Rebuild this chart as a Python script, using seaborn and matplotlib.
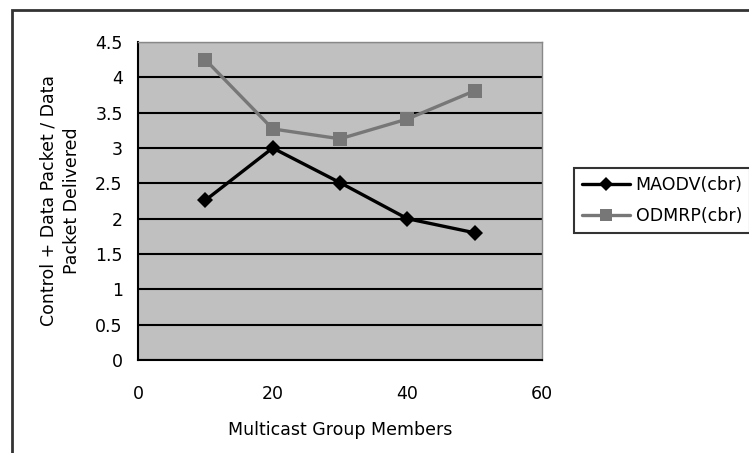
import matplotlib
matplotlib.use("Agg")
import matplotlib.pyplot as plt
import seaborn as sns
import pandas as pd
from matplotlib.patches import Rectangle
from matplotlib.lines import Line2D

members = [10, 20, 30, 40, 50]
maodv = [2.26, 3.0, 2.51, 2.0, 1.8]
odmrp = [4.25, 3.27, 3.13, 3.41, 3.81]
series_names = ["MAODV(cbr)", "ODMRP(cbr)"]
x_ticks = [0, 20, 40, 60]
y_ticks = [0, 0.5, 1, 1.5, 2, 2.5, 3, 3.5, 4, 4.5]
y_tick_labels = ["0", "0.5", "1", "1.5", "2", "2.5", "3", "3.5", "4", "4.5"]

sns.set_style("white")
plt.rcParams['font.family'] = ['DejaVu Sans']

df = pd.DataFrame({
    "x": members * 2,
    "y": maodv + odmrp,
    "s": [series_names[0]] * 5 + [series_names[1]] * 5,
})

fig = plt.figure(figsize=(7.49, 4.53), dpi=100)
ax = fig.add_axes([138/749, 1-360/453, (542-138)/749, (360-42)/453])
ax.set_facecolor("#c0c0c0")

sns.lineplot(data=df, x="x", y="y", hue="s", style="s",
             palette={series_names[0]: "#000000", series_names[1]: "#777777"},
             markers={series_names[0]: "D", series_names[1]: "s"},
             dashes=False, linewidth=2.4, markersize=10.5, markeredgewidth=0,
             ax=ax, legend=False, zorder=3)
for line in ax.get_lines():
    if line.get_marker() == "D":
        line.set_markersize(8)

ax.set_xlim(0, 60)
ax.set_ylim(0, 4.5)
ax.set_xticks(x_ticks)
ax.set_yticks(y_ticks)
ax.set_yticklabels(y_tick_labels)
ax.yaxis.grid(True, color="black", linewidth=1.5, zorder=1)
ax.set_axisbelow(True)
for side in ["top", "right"]:
    ax.spines[side].set_color("#888888")
    ax.spines[side].set_linewidth(1)
for side in ["left", "bottom"]:
    ax.spines[side].set_color("black")
    ax.spines[side].set_linewidth(1.5)
ax.tick_params(axis="both", direction="out", length=5, width=1.2, color="black",
               labelsize=12.5, colors="black")
ax.tick_params(axis="x", pad=13)
ax.tick_params(axis="y", pad=6)

ax.set_xlabel("Multicast Group Members", fontsize=12.5, labelpad=13, color="black")
ax.set_ylabel("Control + Data Packet / Data\nPacket Delivered", fontsize=12.5,
              labelpad=10, linespacing=1.45, color="black")

handles = [
    Line2D([], [], color="#000000", marker="D", markersize=7, linewidth=2.4, markeredgewidth=0),
    Line2D([], [], color="#777777", marker="s", markersize=9, linewidth=2.4, markeredgewidth=0),
]
leg = fig.legend(handles, series_names, loc="upper left",
                 bbox_to_anchor=(574/749, 1-168/453), frameon=True, fancybox=False,
                 edgecolor="black", fontsize=12.5, handlelength=2.8, handletextpad=0.3,
                 borderpad=0.45, labelspacing=0.75, borderaxespad=0)
leg.get_frame().set_linewidth(1.5)
for t in leg.get_texts():
    t.set_color("black")

fig.patches.append(Rectangle((12/749, -0.1), 2, 1 - 10/453 + 0.1, transform=fig.transFigure,
                             fill=False, edgecolor="#333333", linewidth=2))

fig.savefig("out.png", dpi=100)
